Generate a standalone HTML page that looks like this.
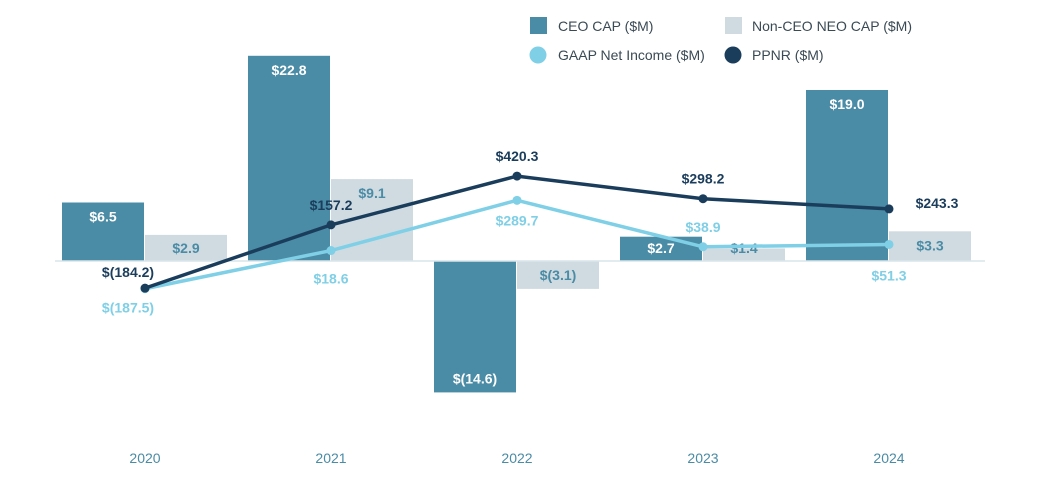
<!DOCTYPE html>
<html><head><meta charset="utf-8"><style>
body{margin:0;background:#fff;}
svg{display:block;font-family:"Liberation Sans",Arial,sans-serif;}
</style></head><body>
<svg id="chart" width="1051" height="489" viewBox="0 0 1051 489">
<g id="legend">
<g><rect x="530" y="17" width="17" height="17" fill="#4a8ba5"/><text x="558" y="31" font-size="14" fill="#3a4a55">CEO CAP ($M)</text></g>
<g><rect x="725" y="17" width="17" height="17" fill="#d0dbe1"/><text x="752" y="31" font-size="14" fill="#3a4a55">Non-CEO NEO CAP ($M)</text></g>
<g><circle cx="538" cy="55" r="8.5" fill="#7fcfe6"/><text x="558" y="60" font-size="14" fill="#3a4a55">GAAP Net Income ($M)</text></g>
<g><circle cx="733" cy="55" r="8.5" fill="#1b3d5c"/><text x="752" y="60" font-size="14" fill="#3a4a55">PPNR ($M)</text></g>
</g>
</svg>
<script>
const years=["2020","2021","2022","2023","2024"];
const ceoCap=[6.5,22.8,-14.6,2.7,19.0];
const neoCap=[2.9,9.1,-3.1,1.4,3.3];
const gaapNI=[-187.5,18.6,289.7,38.9,51.3];
const ppnr=[-184.2,157.2,420.3,298.2,243.3];
// label placement offsets (layout, not data)
const ppnrLabelDx=[-17,0,0,0,48], ppnrLabelDy=[-11,-15,-15,-15,-1];
const gaapLabelDx=[-17,0,0,0,0], gaapLabelDy=[24,33,25,-15,36];

const svg=document.getElementById('chart');
const NS="http://www.w3.org/2000/svg";
const xC=i=>145+i*186;
const yBar=v=>261-v*9.0;
const yLine=v=>254-v*0.1853;
function mk(t,a,p){const e=document.createElementNS(NS,t);for(const k in a)e.setAttribute(k,a[k]);(p||svg).appendChild(e);return e;}
const fmt=v=>v<0?"$("+Math.abs(v).toFixed(1)+")":"$"+v.toFixed(1);

const barsG=mk('g',{});


const axis=mk('line',{x1:55,x2:985,y1:261,y2:261,stroke:'#d8e6ec','stroke-width':1.5});



function drawBar(v,x,fill,lblColor,name,i){
  const y0=yBar(0),y1=yBar(v);
  const r=mk('rect',{x:x,y:Math.min(y0,y1),width:82,height:Math.abs(y1-y0),fill:fill},barsG);
  
  
  let ly=v>=0?Math.min(y1+19,y0-8):y1-9;
  const t=mk('text',{x:x+41,y:ly,'text-anchor':'middle','font-size':14,'font-weight':'bold',fill:lblColor},barsG);
  t.textContent=fmt(v);
  
  
}
years.forEach((y,i)=>{
  drawBar(ceoCap[i],xC(i)-83,'#4a8ba5','#ffffff','ceo-cap-bar',i);
  drawBar(neoCap[i],xC(i),'#d0dbe1','#4a8ba5','non-ceo-cap-bar',i);
  const yl=mk('text',{x:xC(i),y:463,'text-anchor':'middle','font-size':14,fill:'#4a8ba5'});
  yl.textContent=y;
  
  
});

function drawLine(vals,color,name,dx,dy){
  const pts=vals.map((v,i)=>xC(i)+','+yLine(v)).join(' ');
  const l=mk('polyline',{points:pts,fill:'none',stroke:color,'stroke-width':3.5});
  
  
  vals.forEach((v,i)=>{
    const c=mk('circle',{cx:xC(i),cy:yLine(v),r:4.5,fill:color});
    
    
    const t=mk('text',{x:xC(i)+dx[i],y:yLine(v)+dy[i],'text-anchor':'middle','font-size':14,'font-weight':'bold',fill:color});
    t.textContent=fmt(v);
    
    
  });
}
drawLine(gaapNI,'#7fcfe6','gaap-net-income',gaapLabelDx,gaapLabelDy);
drawLine(ppnr,'#1b3d5c','ppnr',ppnrLabelDx,ppnrLabelDy);
</script>
</body></html>
